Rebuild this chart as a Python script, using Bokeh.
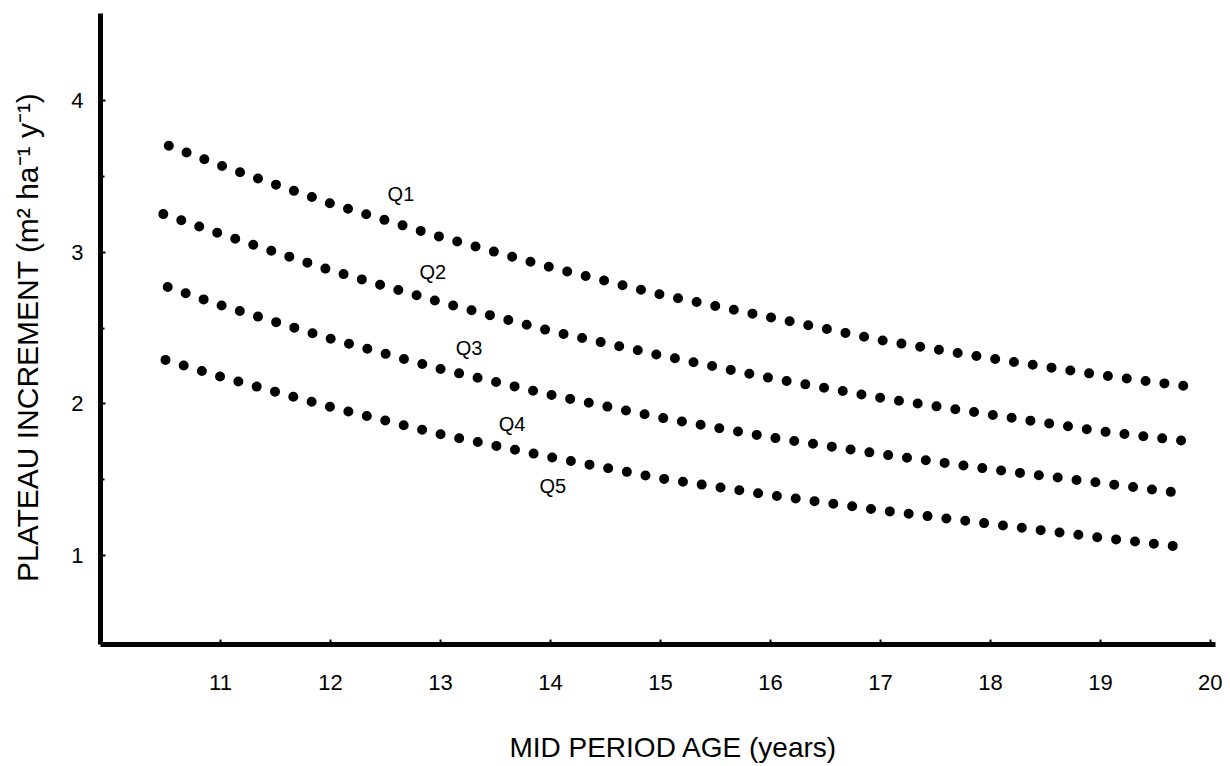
from bokeh.plotting import figure
from bokeh.models import FixedTicker, Range1d
from bokeh.embed import file_html
from bokeh.resources import INLINE
from bokeh.core.properties import value

# ---- data ----
q1_age = [10.53, 11, 12, 13, 14, 15, 16, 17, 18, 19, 19.85]
q1_inc = [3.70, 3.57, 3.32, 3.10, 2.90, 2.72, 2.57, 2.42, 2.30, 2.19, 2.11]
q2_age = [10.48, 11, 12, 13, 14, 15, 16, 17, 18, 19, 19.84]
q2_inc = [3.25, 3.12, 2.88, 2.67, 2.48, 2.32, 2.17, 2.04, 1.93, 1.82, 1.75]
q3_age = [10.52, 11, 12, 13, 14, 15, 16, 17, 18, 19, 19.76]
q3_inc = [2.77, 2.65, 2.43, 2.23, 2.06, 1.91, 1.78, 1.67, 1.57, 1.48, 1.41]
q4_age = [10.50, 11, 12, 13, 14, 15, 16, 17, 18, 19, 19.72]
q4_inc = [2.29, 2.18, 1.98, 1.80, 1.65, 1.51, 1.40, 1.30, 1.21, 1.12, 1.06]

class_labels = ["Q1", "Q2", "Q3", "Q4", "Q5"]
class_label_age = [12.64, 12.93, 13.26, 13.65, 14.02]
class_label_inc = [3.38, 2.87, 2.37, 1.87, 1.46]

x_ticks = [11, 12, 13, 14, 15, 16, 17, 18, 19, 20]
y_ticks = [1, 2, 3, 4]
y_minor_ticks = [1.5, 2.5, 3.5]

x_title = "\u00a0\u00a0\u00a0\u00a0MID PERIOD AGE (years)"
y_title = "PLATEAU INCREMENT (m\u00b2 ha\u207b\u00b9 y\u207b\u00b9)\u00a0\u00a0"

FONT = "Liberation Sans"

p = figure(width=1222, height=765, output_backend="svg", toolbar_location=None,
           x_range=Range1d(9.909, 20.045), y_range=Range1d(0.416, 4.571),
           min_border_left=100, min_border_right=7, min_border_top=13)
p.outline_line_color = None
p.grid.visible = False
p.background_fill_color = "white"
p.border_fill_color = "white"

for xs, ys in [(q1_age, q1_inc), (q2_age, q2_inc), (q3_age, q3_inc), (q4_age, q4_inc)]:
    p.line(xs, ys, line_color="black", line_width=10, line_cap="round",
           line_dash="0 19")

p.text(x=class_label_age, y=class_label_inc, text=class_labels,
       text_font=value(FONT), text_font_size="20px", text_color="black",
       text_align="center", text_baseline="middle")

for ax in (p.xaxis[0], p.yaxis[0]):
    ax.axis_line_width = 5
    ax.axis_line_color = "black"
    ax.major_tick_in = 5
    ax.major_tick_out = 0
    ax.major_tick_line_width = 2
    ax.minor_tick_in = 4
    ax.minor_tick_out = 0
    ax.minor_tick_line_width = 2
    ax.major_label_text_font = FONT
    ax.major_label_text_font_size = "22px"
    ax.major_label_text_color = "black"
    ax.axis_label_text_font = FONT
    ax.axis_label_text_font_style = "normal"
    ax.axis_label_text_color = "black"

p.xaxis.ticker = FixedTicker(ticks=x_ticks)
p.yaxis.ticker = FixedTicker(ticks=y_ticks, minor_ticks=y_minor_ticks)
p.xaxis.axis_label = x_title
p.yaxis.axis_label = y_title
p.xaxis.axis_label_text_font_size = "28px"
p.yaxis.axis_label_text_font_size = "30px"
p.xaxis.major_label_standoff = 30
p.xaxis.axis_label_standoff = 39
p.yaxis.major_label_standoff = 17
p.yaxis.axis_label_standoff = 24

open("out.html", "w").write(file_html(p, INLINE))
